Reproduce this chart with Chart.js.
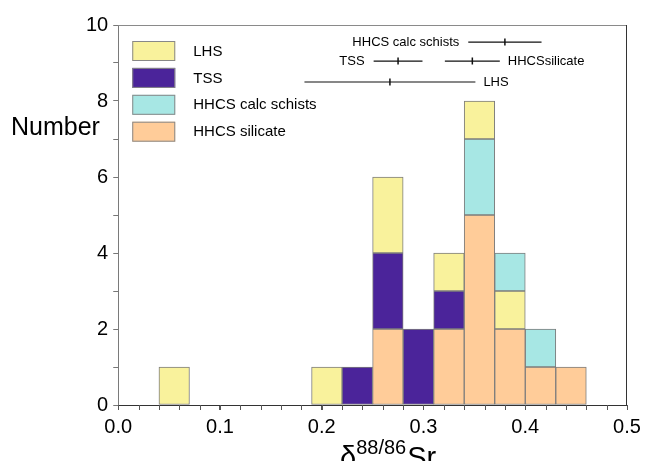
<!DOCTYPE html>
<html>
<head>
<meta charset="utf-8">
<script src="https://cdn.jsdelivr.net/npm/chart.js@4"></script>
<style>
  html, body { margin: 0; padding: 0; background: #fff; overflow: hidden; }
  #wrap { width: 648px; height: 461px; }
</style>
</head>
<body>
<div id="wrap"><canvas id="srChart"></canvas></div>
<script>
const FONT = "'Liberation Sans', Arial, sans-serif";

// histogram bins (lower edge), all 0.03 wide
let binStarts = [0.04, 0.19, 0.22, 0.25, 0.28, 0.31, 0.34, 0.37, 0.40, 0.43];
let binWidth = 0.03;

let seriesNames = ['LHS', 'TSS', 'HHCS calc schists', 'HHCS silicate'];
let countLHS  = [1, 1, 0, 2, 0, 1, 1, 1, 0, 0];
let countTSS  = [0, 0, 1, 2, 2, 1, 0, 0, 0, 0];
let countCalc = [0, 0, 0, 0, 0, 0, 2, 1, 1, 0];
let countSil  = [0, 0, 0, 2, 0, 2, 5, 2, 1, 1];
let seriesColors = ['#f9f29c', '#4b249a', '#a7e7e4', '#ffcc99'];

// stacking order bottom -> top (index into seriesNames); the 0.37 bin has LHS under calc
let stackOrder = [3, 1, 2, 0];
let stackOrderAlt = [3, 1, 0, 2];
let altBins = [0.37];

// mean +/- 2sd bars in the top right corner
let errNames = ['HHCS calc schists', 'TSS', 'HHCSsilicate', 'LHS'];
let errMean  = [0.380, 0.275, 0.348, 0.267];
let errHalf  = [0.036, 0.024, 0.027, 0.084];
let errLevel = [9.55, 9.05, 9.05, 8.5];
let errLabelSide = ['left', 'left', 'right', 'right'];

let xMin = 0, xMax = 0.5, xMajor = 0.1, xMinor = 0.02;
let yMin = 0, yMax = 10;

let counts = [countLHS, countTSS, countCalc, countSil];

// floating bar segments per series
let segs = seriesNames.map(() => []);
binStarts.forEach((b, i) => {
  let order = altBins.some(a => Math.abs(a - b) < 1e-9) ? stackOrderAlt : stackOrder;
  let base = 0;
  order.forEach(s => {
    let c = counts[s][i];
    if (c > 0) {
      segs[s].push({ x: b + binWidth / 2, y: [base, base + c] });
      base += c;
    }
  });
});

let datasets = [];
seriesNames.forEach((name, s) => {
  datasets.push({
    type: 'bar',
    label: name,
    data: segs[s],
    backgroundColor: seriesColors[s],
    borderColor: '#7d7d7d',
    borderWidth: 1,
    borderSkipped: false,
    grouped: false,
    barPercentage: 1,
    categoryPercentage: 1
  });
});

errMean.forEach((m, i) => {
  datasets.push({
    type: 'line',
    label: errNames[i] + ' range',
    data: [{ x: m - errHalf[i], y: errLevel[i] }, { x: m + errHalf[i], y: errLevel[i] }],
    borderColor: '#111',
    borderWidth: 1.2,
    pointRadius: 0
  });
  datasets.push({
    type: 'line',
    label: errNames[i] + ' mean',
    data: [{ x: m, y: errLevel[i] }],
    showLine: false,
    pointStyle: 'line',
    rotation: 90,
    pointRadius: 3.5,
    pointBorderWidth: 1.5,
    pointBorderColor: '#111'
  });
});

const extras = {
  id: 'extras',
  afterDraw(chart) {
    const c = chart.ctx;
    const a = chart.chartArea;
    const xs = chart.scales.x, ys = chart.scales.y;
    c.save();

    // frame top / right
    c.lineWidth = 1;
    c.strokeStyle = '#8a8a8a';
    c.beginPath(); c.moveTo(a.left, a.top + 0.5); c.lineTo(a.right, a.top + 0.5); c.stroke();
    c.strokeStyle = '#333';
    c.beginPath(); c.moveTo(a.right - 0.5, a.top); c.lineTo(a.right - 0.5, a.bottom); c.stroke();

    // minor x ticks
    c.strokeStyle = '#555';
    for (let k = 0; k <= Math.round((xMax - xMin) / xMinor); k++) {
      let v = xMin + k * xMinor;
      let px = Math.round(xs.getPixelForValue(v)) + 0.5;
      c.beginPath(); c.moveTo(px, a.bottom); c.lineTo(px, a.bottom + 5); c.stroke();
    }

    // legend
    c.font = '15px ' + FONT;
    c.textBaseline = 'middle';
    c.textAlign = 'left';
    seriesNames.forEach((n, s) => {
      let top = a.top + 16 + s * 26.9;
      c.fillStyle = seriesColors[s];
      c.fillRect(a.left + 14, top, 43, 20);
      c.strokeStyle = '#888';
      c.strokeRect(a.left + 14.5, top + 0.5, 42, 19);
      c.fillStyle = '#000';
      c.fillText(n, a.left + 75, top + 10.5);
    });

    // error bar labels
    c.font = '13px ' + FONT;
    errNames.forEach((n, i) => {
      let py = ys.getPixelForValue(errLevel[i]);
      if (errLabelSide[i] === 'left') {
        c.textAlign = 'right';
        c.fillText(n, xs.getPixelForValue(errMean[i] - errHalf[i]) - 9, py + 0.5);
      } else {
        c.textAlign = 'left';
        c.fillText(n, xs.getPixelForValue(errMean[i] + errHalf[i]) + 8, py + 0.5);
      }
    });

    // y title, horizontal
    c.textAlign = 'left';
    c.textBaseline = 'alphabetic';
    c.font = '25px ' + FONT;
    c.fillText('Number', 11, 135);

    // x title with superscript
    let big = '29px ' + FONT, small = '20px ' + FONT;
    c.font = big; let w1 = c.measureText('\u03b4').width, w3 = c.measureText('Sr').width;
    c.font = small; let w2 = c.measureText('88/86').width;
    let x0 = (a.left + a.right) / 2 + 15 - (w1 + w2 + w3) / 2;
    c.font = big; c.fillText('\u03b4', x0, 467);
    c.font = small; c.fillText('88/86', x0 + w1, 454);
    c.font = big; c.fillText('Sr', x0 + w1 + w2 + 1, 467);

    c.restore();
  }
};

let srChart = new Chart(document.getElementById('srChart'), {
  type: 'bar',
  data: { datasets: datasets },
  options: {
    responsive: true,
    maintainAspectRatio: false,
    animation: false,
    layout: { padding: { left: 81, right: 21, top: 25, bottom: 17 } },
    plugins: {
      legend: { display: false },
      tooltip: { enabled: false }
    },
    scales: {
      x: {
        type: 'linear',
        min: xMin,
        max: xMax,
        offset: false,
        grid: { offset: false, drawOnChartArea: false, drawTicks: true, tickLength: 5, color: '#555' },
        border: { color: '#333', width: 1 },
        ticks: {
          stepSize: xMajor,
          padding: 5,
          color: '#000',
          font: { family: FONT, size: 20 },
          maxRotation: 0,
          callback: v => v.toFixed(1)
        }
      },
      y: {
        min: yMin,
        max: yMax,
        grid: { drawOnChartArea: false, drawTicks: true, tickLength: 5, color: '#777' },
        border: { color: '#7a7a7a', width: 1 },
        ticks: {
          stepSize: 1,
          padding: 5,
          color: '#000',
          font: { family: FONT, size: 20 },
          callback: v => (v % 2 === 0 ? String(v) : '')
        }
      }
    }
  },
  plugins: [extras]
});
</script>
</body>
</html>
